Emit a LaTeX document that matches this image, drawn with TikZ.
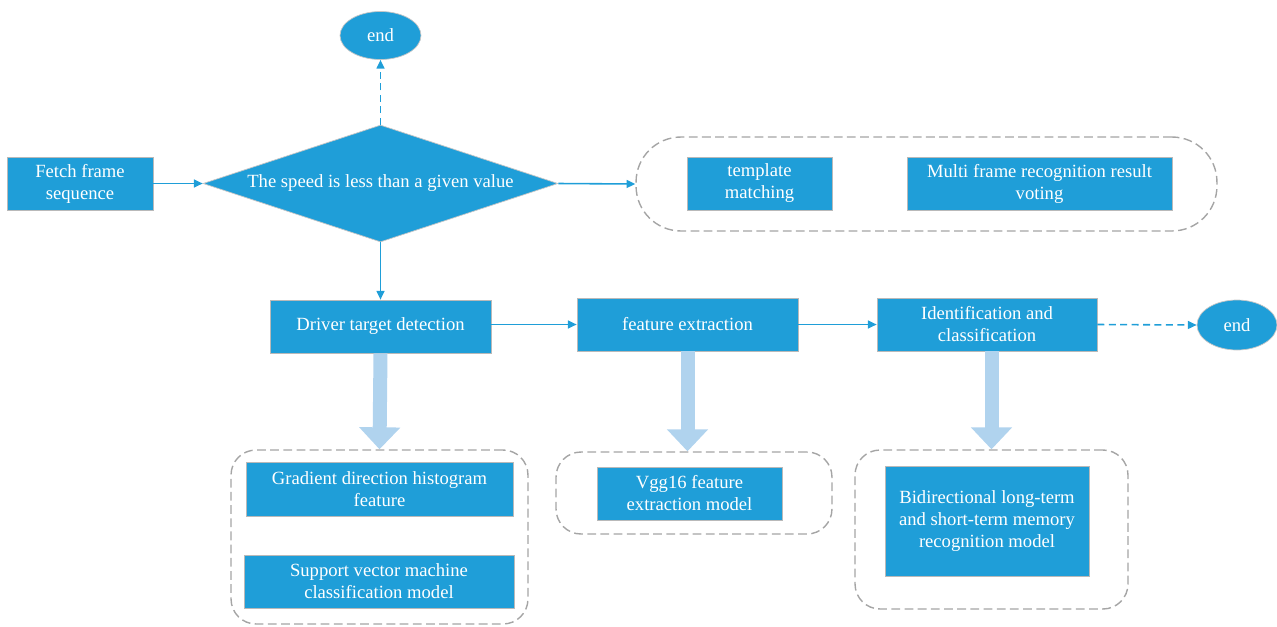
\documentclass[tikz,border=0pt]{standalone}
\usepackage{fontspec}
\setmainfont{Liberation Serif}
\usetikzlibrary{shapes.geometric,arrows.meta,calc}

\definecolor{boxblue}{RGB}{31,158,216}
\definecolor{paleblue}{RGB}{176,211,238}
\definecolor{dashgray}{RGB}{165,165,165}

\tikzset{
    stepbox/.style={rectangle, fill=boxblue, draw=gray!55, line width=0.4pt,
        text=white, align=center, font=\fontsize{10.6}{12.5}\selectfont},
    endnode/.style={ellipse, fill=boxblue, draw=gray!45, line width=0.4pt,
        text=white, minimum width=1.62cm, minimum height=0.96cm,
        font=\fontsize{10.6}{12.5}\selectfont},
    groupbox/.style={rectangle, draw=dashgray, line width=0.8pt,
        dash pattern=on 5pt off 2.5pt},
    flow/.style={draw=boxblue, line width=0.9pt, -{Triangle[length=5pt,width=4.5pt]}},
    flowdash/.style={flow, dash pattern=on 4pt off 2.5pt},
    bigarrow/.style={draw=paleblue, line width=0.28cm,
        -{Triangle[length=0.44cm,width=0.8cm]}}
}

\begin{document}
\begin{tikzpicture}[x=0.02cm, y=-0.02cm]
    % page frame (pixel units of the reference)
    \useasboundingbox (0,0) rectangle (1277,626);

    % Top row: start, decision and exit
    \node[stepbox, minimum width=2.92cm, minimum height=1.06cm] (fetch) at (80,183.5) {Fetch frame\\sequence};
    \node[diamond, fill=boxblue, draw=gray!45, line width=0.4pt, text=white,
          minimum width=7.1cm, minimum height=2.34cm, aspect=3.03, inner sep=0pt,
          font=\fontsize{10.6}{12.5}\selectfont] (speed) at (380.5,183.5) {The speed is less than a given value};
    \node[endnode] (endtop) at (380.5,35.5) {end};

    % Group of the slow branch
    \node[groupbox, rounded corners=0.9cm, minimum width=11.62cm, minimum height=1.88cm] (grptop) at (926.5,184) {};
    \node[stepbox, minimum width=2.9cm, minimum height=1.06cm] (tmpl) at (759.5,183.5) {template\\matching};
    \node[stepbox, minimum width=5.3cm, minimum height=1.06cm] (vote) at (1039.5,183.5) {Multi frame recognition result\\voting};

    % Middle row: detection pipeline
    \node[stepbox, minimum width=4.42cm, minimum height=1.06cm] (detect) at (380.5,326.5) {Driver target detection};
    \node[stepbox, minimum width=4.42cm, minimum height=1.06cm] (feat) at (687.5,324.5) {feature extraction};
    \node[stepbox, minimum width=4.4cm, minimum height=1.06cm] (ident) at (987,324.5) {Identification and\\classification};
    \node[endnode, minimum width=1.6cm, minimum height=1.0cm] (endright) at (1237,325) {end};

    % Bottom row: models of each step
    \node[groupbox, rounded corners=0.5cm, minimum width=5.94cm, minimum height=3.48cm] (grpdetect) at (379.5,537) {};
    \node[stepbox, minimum width=5.34cm, minimum height=1.08cm] (hog) at (379.5,489) {Gradient direction histogram\\feature};
    \node[stepbox, minimum width=5.4cm, minimum height=1.06cm] (svm) at (379,581.5) {Support vector machine\\classification model};

    \node[groupbox, rounded corners=0.5cm, minimum width=5.52cm, minimum height=1.64cm] (grpfeat) at (694,493) {};
    \node[stepbox, minimum width=3.7cm, minimum height=1.06cm] (vgg) at (689.5,493.5) {Vgg16 feature\\extraction model};

    \node[groupbox, rounded corners=0.5cm, minimum width=5.46cm, minimum height=3.18cm] (grpident) at (991.5,529.5) {};
    \node[stepbox, minimum width=4.08cm, minimum height=2.2cm] (blstm) at (987,521) {Bidirectional long-term\\and short-term memory\\recognition model};

    % Draw connectors
    \draw[flow] (fetch.east) -- (speed.west);
    \draw[flowdash] (speed.north) -- (endtop.south);
    \draw[flow] (speed.east) -- (grptop.west);
    \draw[flow] (speed.south) -- (detect.north);
    \draw[flow] (detect.east |- feat.west) -- (feat.west);
    \draw[flow] (feat.east) -- (ident.west);
    \draw[flowdash] (ident.east) -- (endright.west);

    % Draw wide arrows to the models
    \draw[bigarrow] (detect.south) -- (grpdetect.north);
    \draw[bigarrow] (feat.south) -- (feat.south |- grpfeat.north);
    \draw[bigarrow] (ident.south -| grpident.north) -- (grpident.north);

\end{tikzpicture}
\end{document}
